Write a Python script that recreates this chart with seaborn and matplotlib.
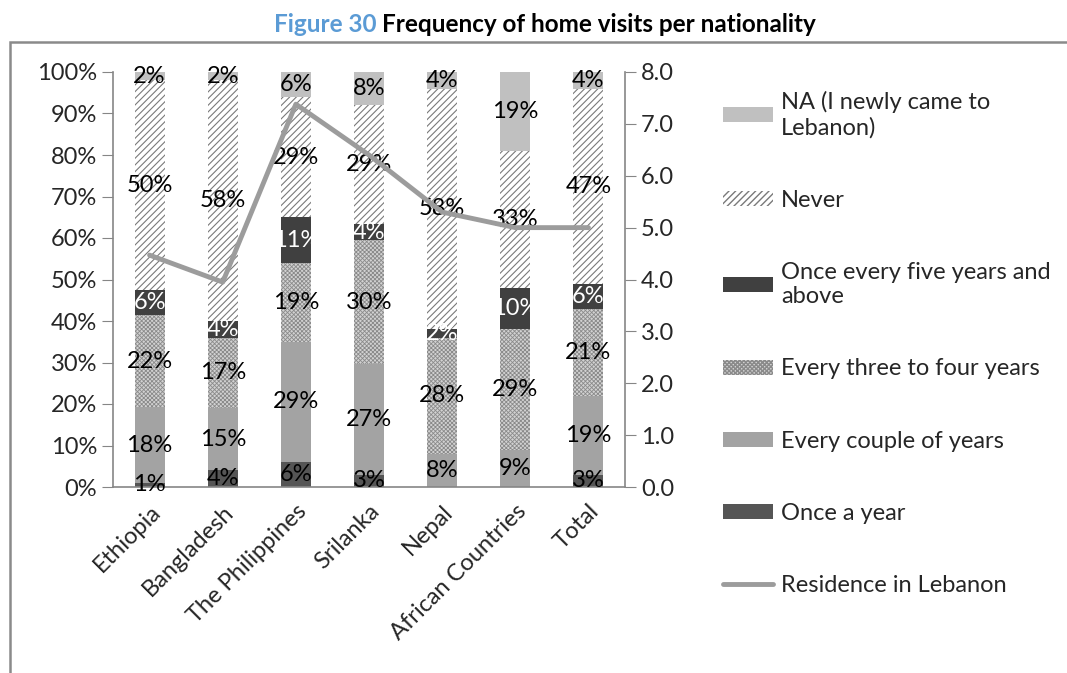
import numpy as np
import pandas as pd
import matplotlib
matplotlib.use('Agg')
import matplotlib.pyplot as plt
from matplotlib.patches import Patch, Rectangle
from matplotlib.lines import Line2D
import seaborn as sns

# data
countries = ['Ethiopia', 'Bangladesh', 'The Philippines', 'Srilanka', 'Nepal',
             'African Countries', 'Total']
once_a_year = [1, 4, 6, 3, 0, 0, 3]
every_couple = [18, 15, 29, 27, 8, 9, 19]
three_four = [22, 17, 19, 30, 28, 29, 21]
five_plus = [6, 4, 11, 4, 2, 10, 6]
never = [50, 58, 29, 29, 58, 33, 47]
na_new = [2, 2, 6, 8, 4, 19, 4]
residence = [4.47, 3.95, 7.38, 6.4, 5.3, 5.0, 5.0]

series = [
    ('Once a year', once_a_year),
    ('Every couple of years', every_couple),
    ('Every three to four years', three_four),
    ('Once every five years and\nabove', five_plus),
    ('Never', never),
    ('NA (I newly came to\nLebanon)', na_new),
]
styles = {
    'Once a year': dict(color='#555555', hatch=None, edge='#555555', txt='black', hlw=0.8),
    'Every couple of years': dict(color='#a3a3a3', hatch=None, edge='#a3a3a3', txt='black', hlw=0.8),
    'Every three to four years': dict(color='#d2d2d2', hatch='xxxxxxxx', edge='#8a8a8a', txt='black', hlw=0.6),
    'Once every five years and\nabove': dict(color='#404040', hatch=None, edge='#404040', txt='white', hlw=0.8),
    'Never': dict(color='white', hatch='/////', edge='#7a7a7a', txt='black', hlw=0.8),
    'NA (I newly came to\nLebanon)': dict(color='#c0c0c0', hatch=None, edge='#c0c0c0', txt='black', hlw=0.8),
}

sns.set_style('white')
plt.rcParams['font.family'] = ['Lato', 'DejaVu Sans']
fs = 17

df = pd.DataFrame({name: vals for name, vals in series}, index=countries)
totals = df.sum(axis=1)
pct = df.div(totals, axis=0) * 100
cum = pct.cumsum(axis=1)

fig = plt.figure(figsize=(10.67, 6.73), dpi=100)
ax = fig.add_axes([113 / 1067, 1 - 487 / 673, 512 / 1067, 415 / 673])

# draw cumulative bars from the top layer down so each covers the previous
for name, _ in reversed(series):
    st = styles[name]
    plot_df = pd.DataFrame({'country': countries, 'value': cum[name].values})
    with plt.rc_context({'hatch.linewidth': st['hlw']}):
        sns.barplot(data=plot_df, x='country', y='value', ax=ax, color=st['color'],
                    width=0.41, saturation=1, edgecolor=st['edge'], linewidth=0,
                    hatch=st['hatch'])

# segment labels
for name, vals in series:
    st = styles[name]
    for i, v in enumerate(vals):
        if v == 0:
            continue
        mid = cum[name].iloc[i] - pct[name].iloc[i] / 2
        ax.text(i, mid, f'{v}%', ha='center', va='center', fontsize=fs,
                color=st['txt'])

ax.set_ylim(0, 100)
ax.set_xlim(-0.5, len(countries) - 0.5)
ax.set_yticks(np.arange(0, 101, 10))
ax.set_yticklabels([f'{t}%' for t in range(0, 101, 10)], fontsize=fs)
ax.set_xlabel('')
ax.set_ylabel('')
ax.set_xticks(range(len(countries)))
ax.set_xticklabels(countries, rotation=45, ha='right', rotation_mode='anchor',
                   fontsize=fs)
ax.tick_params(axis='x', length=0, pad=10)
ax.set_xticks(np.arange(-0.5, len(countries), 1), minor=True)
ax.tick_params(axis='x', which='minor', length=9, color='#868686', direction='out')
ax.tick_params(axis='y', length=8, color='#868686', direction='out', left=True)
for s in ['top', 'right']:
    ax.spines[s].set_visible(False)
for s in ['left', 'bottom']:
    ax.spines[s].set_color('#868686')
    ax.spines[s].set_linewidth(1.2)

# secondary axis for residence
ax2 = ax.twinx()
sns.lineplot(x=np.arange(len(countries)), y=residence, ax=ax2, color='#9c9c9c',
             linewidth=3.5)
ax2.set_ylim(0, 8)
ax2.set_yticks(np.arange(0, 8.1, 1))
ax2.set_yticklabels([f'{t:.1f}' for t in np.arange(0, 8.1, 1)], fontsize=fs)
ax2.tick_params(axis='y', length=8, color='#868686', direction='out', right=True)
for s in ['top', 'left', 'bottom']:
    ax2.spines[s].set_visible(False)
ax2.spines['right'].set_color('#868686')
ax2.spines['right'].set_linewidth(1.2)

# legend
handles = []
labels = []
for name, _ in reversed(series):
    st = styles[name]
    with plt.rc_context({'hatch.linewidth': st['hlw']}):
        handles.append(Patch(facecolor=st['color'], edgecolor=st['edge'],
                             hatch=st['hatch'], linewidth=0))
    labels.append(name)
handles.append(Line2D([0], [0], color='#9c9c9c', linewidth=3.5))
labels.append('Residence in Lebanon')
fig.legend(handles, labels, loc='upper left', bbox_to_anchor=(702 / 1067, 1 - 70 / 673),
           frameon=False, fontsize=fs, handlelength=2.1, handleheight=0.6,
           handletextpad=0.35, labelspacing=2.17, alignment='left')

# frame and title
fig.patches.append(Rectangle((10 / 1067, -0.05), 1.2, 1 - 42 / 673 + 0.05,
                             transform=fig.transFigure, fill=False,
                             edgecolor='#8a8a8a', linewidth=1.8))
t1 = fig.text(0, 1 - 25 / 673, 'Figure 30 ', color='#5b9bd5', fontsize=17.5,
              fontweight='bold', ha='left', va='center')
t2 = fig.text(0, 1 - 25 / 673, 'Frequency of home visits per nationality',
              color='black', fontsize=17.5, fontweight='bold', ha='left', va='center')
r = fig.canvas.get_renderer()
w1 = t1.get_window_extent(r).width
w2 = t2.get_window_extent(r).width
x0 = 545 - (w1 + w2) / 2
t1.set_x(x0 / 1067)
t2.set_x((x0 + w1) / 1067)

fig.savefig('out.png', dpi=100)
